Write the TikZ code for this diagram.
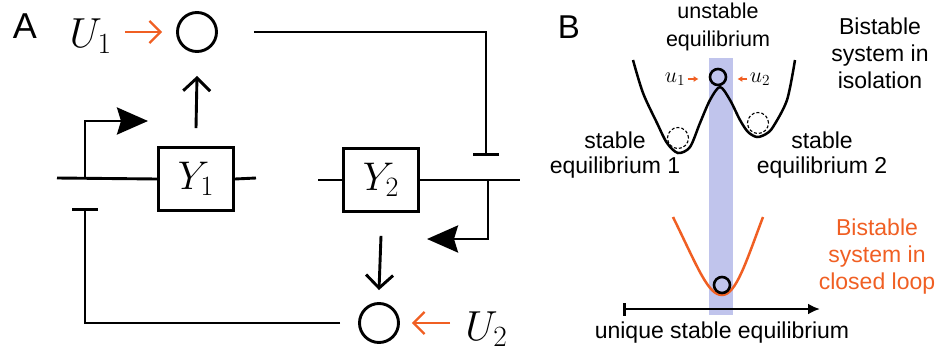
\RequirePackage{fix-cm}
\documentclass[tikz,border=0pt]{standalone}
\usepackage[no-math]{fontspec}
\setmainfont{Liberation Sans}
\usepackage{xcolor}
\usetikzlibrary{arrows.meta,positioning,calc}
\definecolor{sigorange}{RGB}{240,95,35}
\definecolor{bandblue}{RGB}{192,196,236}

\begin{document}
\begin{tikzpicture}[x=1pt,y=-1pt,line width=2.9pt,
  font=\fontsize{23}{27}\selectfont,
  gene/.style={draw,minimum width=75pt,minimum height=63pt,inner sep=0pt,font=\fontsize{40}{40}\selectfont},
  sum/.style={draw,circle,minimum size=39pt,inner sep=0pt},
  mathlbl/.style={inner sep=0pt,font=\fontsize{42}{42}\selectfont},
  prom/.style={-{Stealth[length=31pt,width=27pt,inset=4pt]}},
  prod/.style={-{Straight Barb[length=13pt,width=27pt]}},
  inhib/.style={-{Bar[width=26pt]}},
  inarrow/.style={sigorange,line width=2.2pt,-{Straight Barb[length=11pt,width=22pt]}},
  well/.style={line width=2.5pt},
  ball/.style={draw,circle,line width=2.6pt,minimum size=16pt,inner sep=0pt},
  ghost/.style={draw,circle,dashed,line width=1.1pt,dash pattern=on 3pt off 2pt,minimum size=21pt,inner sep=0pt},
  tinyarr/.style={sigorange,line width=1.6pt,-{Latex[length=5pt,width=6pt]}}]
  \useasboundingbox (0,0) rectangle (946,351);
  \node[font=\fontsize{36}{36}\selectfont] (lA) at (25,26) {A};
  \node[sum] (c1) at (197,32) {};
  \node[mathlbl,anchor=base east] (u1) at (113,47) {$U_1$};
  \node[gene] (y1) at (196,179) {$Y_1$};
  \node[gene] (y2) at (381,180) {$Y_2$};
  \node[sum] (c2) at (379,323) {};
  \node[mathlbl,anchor=base west] (u2) at (464,340) {$U_2$};
  \coordinate (g1l) at (57,178);
  \coordinate (g1r) at (256,178);
  \coordinate (g2l) at (318,180);
  \coordinate (g2r) at (520,180);
  \coordinate (p1) at (85,178);
  \coordinate (p1t) at (148,121);
  \coordinate (p2) at (488,180);
  \coordinate (p2t) at (427,239);
  \coordinate (r1) at (486,156);
  \coordinate (r2) at (85,208);
  \draw (g1l) -- (y1.west) (y1.east) -- (g1r);
  \draw (g2l) -- (y2.west) (y2.east) -- (g2r);
  \draw[prom] (p1) |- (p1t);
  \draw[prom] (p2) |- (p2t);
  \draw[prod] ([yshift=18pt]y1.north) -- ([yshift=-23pt]c1.south);
  \draw[prod] ([yshift=-23pt]y2.south) -- ([yshift=12pt]c2.north);
  \draw[inhib] ([xshift=36pt]c1.east) -| (r1);
  \draw[inhib] ([xshift=-18pt]c2.west) -| (r2);
  \draw[inarrow] ($(u1.east |- c1.center)+(12,0)$) -- ($(c1.west)+(-14,0)$);
  \draw[inarrow] ($(u2.west |- c2.center)+(-14,0)$) -- ($(c2.east)+(12,0)$);

  \fill[bandblue] (709,58) rectangle (733,315);
  \node[font=\fontsize{33}{33}\selectfont] (lB) at (569,27) {B};
  \draw[well] plot[smooth] coordinates {(633,60) (643,93) (657,123) (667,143) (678,153) (690,147) (700,123) (710,100) (720,87) (730,100) (740,120) (748,132) (757,137) (766,134) (773,127) (787,100) (795,60)};
  \draw[well,sigorange] (673,217) .. controls (698,268) and (708,295) .. (722,295) .. controls (736,295) and (746,262) .. (763,217);
  \node[ball] (b0) at (718,77) {};
  \node[ghost] (d1) at (678,138) {};
  \node[ghost] (d2) at (758,123) {};
  \node[ball] (b1) at (722,285) {};
  \node[inner sep=0pt,font=\fontsize{22}{22}\selectfont] (su1) at (675,79) {$u_1$};
  \node[inner sep=0pt,font=\fontsize{22}{22}\selectfont] (su2) at (760,79) {$u_2$};
  \draw[tinyarr,shorten <=1pt,shorten >=10pt] (su1.east) -- (su1.east -| b0.west);
  \draw[tinyarr,shorten <=1pt,shorten >=10pt] (su2.west) -- (su2.west -| b0.east);
  \coordinate (ax0) at (623,309);
  \coordinate (ax1) at (820,309);
  \draw[line width=2.5pt,{Bar[width=13pt]}-{Latex[length=12pt,width=11pt]}] (ax0) -- (ax1);
  \node[align=center,font=\fontsize{21.5}{28}\selectfont] (unst) at (718,27) {unstable\\equilibrium};
  \node[align=center] (iso) at (880,53) {Bistable\\system in\\isolation};
  \node[align=center,font=\fontsize{23}{25}\selectfont] (st1) at (615,155) {stable\\equilibrium 1};
  \node[align=center,font=\fontsize{23}{25}\selectfont] (st2) at (822,155) {stable\\equilibrium 2};
  \node (uniq) at (722,333) {unique stable equilibrium};
  \node[align=center,text=sigorange] (closed) at (877,257) {Bistable\\system in\\closed loop};
\end{tikzpicture}
\end{document}
